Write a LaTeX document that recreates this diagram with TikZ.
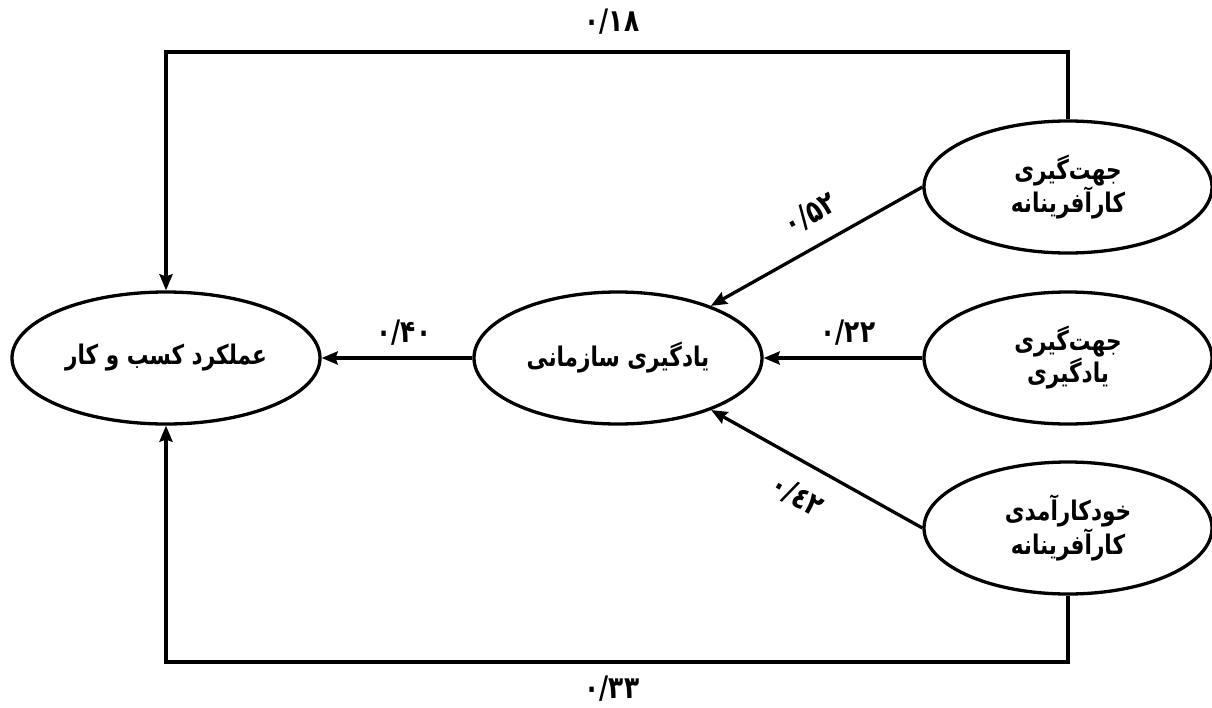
\documentclass[tikz,border=0pt]{standalone}
\usepackage{fontspec}
\TeXXeTstate=1
\newfontfamily\arabicfont[Script=Arabic,FakeStretch=0.8]{DejaVu Sans}
\usetikzlibrary{shapes.geometric,arrows.meta}
\begin{document}
\begin{tikzpicture}[x=1pt,y=-1pt,
  oval/.style={ellipse,draw,line width=3.3pt,minimum width=288pt,minimum height=132pt,inner sep=0pt,align=center,font=\arabicfont\bfseries\fontsize{27}{32}\selectfont},
  conn/.style={line width=3.3pt},
  arr/.style={conn,-{Stealth[length=16pt,width=13pt,inset=2pt]}},
  num/.style={font=\arabicfont\bfseries\fontsize{31}{32}\selectfont,inner sep=0pt}]
\useasboundingbox (0,0) rectangle (1212,707);
\node[oval,minimum width=308pt] (perf) at (166,358) {\beginR عملکرد کسب و کار\endR};
\node[oval] (org) at (618,358) {\beginR یادگیری سازمانی\endR};
\node[oval] (ek) at (1068,187) {\beginR جهت‌گیری\endR\\\beginR کارآفرینانه\endR};
\node[oval] (lo) at (1068,358) {\beginR جهت‌گیری\endR\\\beginR یادگیری\endR};
\node[oval] (se) at (1068,528) {\beginR خودکارآمدی\endR\\\beginR کارآفرینانه\endR};
\coordinate (topy) at (0,52);
\coordinate (boty) at (0,662);
\draw[arr] (ek.north) -- (ek.north |- topy) -| (perf.north);
\draw[arr] (se.south) -- (se.south |- boty) -| (perf.south);
\draw[arr] (org.west) -- (perf.east);
\draw[arr] (lo.west) -- (org.east);
\draw[arr] (ek.west) -- (org);
\draw[arr] (se.west) -- (org);
\node[num] (n18) at (612,22) {۰/۱۸};
\node[num] (n33) at (612,689) {۰/۳۳};
\node[num] (n40) at (404,333) {۰/۴۰};
\node[num] (n22) at (848,333) {۰/۲۲};
\node[num,rotate=29] (n52) at (810,214) {۰/۵۲};
\node[num,rotate=-30] (n42) at (797,496) {\mbox{۰}\mbox{/}\mbox{٤۲}};
\end{tikzpicture}
\end{document}
